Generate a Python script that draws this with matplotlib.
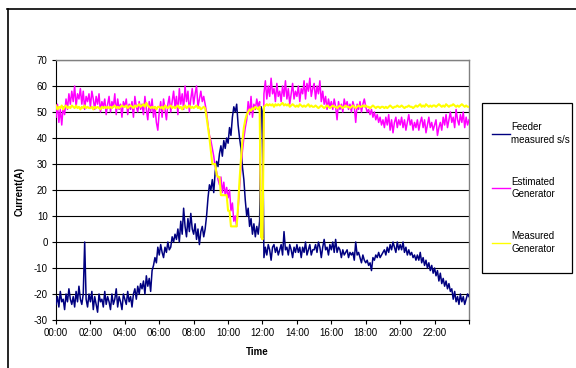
import numpy as np
import matplotlib
matplotlib.use("Agg")
import matplotlib.pyplot as plt
from matplotlib.lines import Line2D
from matplotlib.patches import Rectangle

plt.rcParams["font.family"] = ["Liberation Sans", "DejaVu Sans"]
plt.rcParams["axes.unicode_minus"] = False

# ----------------------------
# Data: one reading every 5 minutes, 00:00 -> 24:00 (one row per hour)
# ----------------------------
step_min = 5

feeder = [
    -24, -21, -25, -19, -23, -22, -26, -20, -23, -18, -22, -24,
    -21, -25, -19, -23, -17, -22, -24, -20, 0, -22, -25, -20,
    -23, -19, -26, -21, -24, -27, -20, -23, -22, -25, -19, -24,
    -21, -23, -26, -20, -24, -22, -18, -25, -21, -23, -26, -20,
    -22, -24, -19, -23, -21, -25, -20, -18, -22, -17, -20, -16,
    -18, -15, -20, -13, -17, -14, -19, -11, -9, -6, -8, -2,
    -5, -1, -4, -6, -2, -4, 0, -3, -2, 2, 0, 3,
    1, 5, 0, 8, 3, 13, 6, 2, 9, 4, 11, 5,
    3, 7, 1, 5, -1, 4, 6, 2, 5, 10, 17, 22,
    20, 24, 19, 27, 31, 29, 34, 37, 33, 39, 36, 40,
    38, 44, 41, 48, 52, 50, 53, 45, 40, 36, 29, 24,
    16, 10, 13, 6, 9, 3, 7, 2, 6, 3, 8, 52,
    50, -6, -2, -5, -1, -3, -7, -2, -1, -4, -2, -5,
    -3, -1, -5, 4, -3, -2, -5, -1, -3, -6, -2, -4,
    -1, -4, -2, -6, -2, -4, 0, -5, -3, -1, -5, -3,
    -3, -1, -4, 0, -2, -6, -2, 1, -3, -2, -5, -1,
    -3, 0, -4, 1, -4, -2, -3, -6, -3, -5, -4, -3,
    -6, -4, -5, -4, -7, 0, -5, -4, -6, -8, -5, -7,
    -8, -7, -9, -8, -11, -6, -7, -5, -6, -4, -6, -5,
    -4, -3, -5, -2, -4, -1, -3, 0, -2, -4, 0, -3,
    -1, -3, 0, -4, -2, -5, -3, -5, -4, -6, -5, -7,
    -5, -7, -4, -8, -6, -9, -7, -10, -8, -11, -9, -12,
    -10, -13, -11, -15, -12, -16, -14, -17, -15, -18, -16, -19,
    -18, -22, -19, -23, -21, -24, -20, -23, -21, -24, -22, -20,
    -21,
]

estimated = [
    48, 53, 46, 51, 45, 52, 49, 55, 51, 57, 53, 58,
    54, 60, 52, 57, 55, 59, 53, 58, 51, 56, 54, 57,
    52, 58, 55, 51, 56, 53, 57, 50, 54, 52, 55, 49,
    53, 56, 50, 54, 52, 57, 49, 55, 51, 53, 48, 54,
    52, 55, 49, 53, 51, 54, 48, 56, 52, 50, 54, 51,
    53, 49, 56, 51, 47, 54, 50, 55, 48, 52, 46, 43,
    50, 54, 48, 55, 51, 47, 53, 56, 50, 54, 58, 52,
    56, 49, 59, 53, 57, 51, 60, 54, 58, 50, 55, 59,
    53, 57, 60, 52, 55, 58, 54, 56, 53, 50, 45, 41,
    39, 36, 33, 29, 27, 24, 22, 25, 19, 23, 18, 21,
    17, 20, 12, 15, 8, 10, 6, 13, 21, 29, 35, 40,
    44, 47, 54, 49, 56, 48, 53, 51, 55, 52, 54, 2,
    1, 57, 62, 55, 60, 56, 63, 57, 59, 54, 61, 56,
    58, 54, 60, 56, 62, 55, 59, 53, 57, 61, 55, 58,
    56, 60, 54, 59, 57, 62, 55, 61, 58, 63, 56, 59,
    61, 55, 60, 57, 62, 54, 58, 53, 56, 51, 55, 52,
    54, 51, 55, 52, 47, 54, 51, 53, 50, 55, 52, 54,
    51, 53, 50, 54, 52, 46, 53, 51, 54, 50, 53, 55,
    52, 50, 51, 49, 51, 48, 50, 47, 49, 46, 48, 45,
    47, 44, 48, 45, 49, 43, 47, 42, 46, 48, 44, 47,
    45, 48, 44, 47, 43, 46, 49, 45, 47, 43, 46, 44,
    47, 43, 46, 48, 44, 47, 42, 45, 48, 44, 46, 43,
    45, 47, 41, 44, 46, 43, 48, 45, 49, 44, 47, 50,
    46, 48, 44, 51, 47, 45, 49, 46, 50, 44, 48, 45,
    47,
]

measured = [
    52.5, 51, 52, 51.5, 52.5, 51, 52, 52.5, 51.5, 52, 51.5, 52.5,
    52, 51.5, 52.5, 51.5, 52, 51, 52, 51.5, 52.5, 51.5, 52, 51.5,
    51.5, 52, 51, 52, 51.5, 52, 51.5, 51, 52, 51.5, 52, 51.5,
    52, 51.5, 52, 51.5, 52, 52.5, 51.5, 52, 51.5, 52, 52.5, 52,
    52, 52.5, 51.5, 52, 52.5, 52, 51.5, 52.5, 52, 52.5, 53, 52,
    52.5, 53, 52, 53.5, 52.5, 52, 51.5, 52, 51.5, 52, 51, 52,
    52, 51.5, 52, 51, 52.5, 52, 51.5, 52, 52.5, 51.5, 52, 51.5,
    52, 52.5, 51.5, 52, 51, 52, 52.5, 51.5, 52, 52.5, 51.5, 52,
    51.5, 52, 52.5, 51.5, 52, 51, 51.5, 52, 51.5, 48, 44, 40,
    35, 30, 30, 30, 26, 25, 25, 18, 18, 18, 18, 18,
    12, 12, 6, 6, 6, 6, 6, 14, 24, 32, 39, 44,
    47, 49, 50, 51, 50.5, 51.5, 51, 52, 51.5, 51, 52, 2,
    1, 52, 52.5, 53, 52.5, 53, 52.5, 53, 52, 53, 52.5, 53,
    52.5, 53, 53.5, 52.5, 53, 52.5, 53, 52, 52.5, 53, 52.5, 52,
    52.5, 52, 53, 52.5, 52, 52.5, 52, 52.5, 53, 52, 52.5, 52,
    52, 52.5, 52, 51.5, 52, 52.5, 52, 51.5, 52, 52.5, 52, 51.5,
    52, 52.5, 52, 52, 51.5, 52, 52.5, 52, 51.5, 52, 52.5, 52,
    52, 51.5, 52, 52.5, 52, 51.5, 52, 52.5, 52, 52, 52.5, 52,
    52.5, 52, 52, 51.5, 52, 52.5, 52, 51.5, 52, 52, 51.5, 52,
    52, 51.5, 52, 51.5, 52, 52.5, 52, 51.5, 52, 52, 52.5, 52,
    52, 52.5, 52, 51.5, 52, 52, 52.5, 52, 52, 51.5, 52, 52.5,
    52, 52.5, 53, 52, 52.5, 52, 53, 52.5, 52, 52.5, 52, 52.5,
    52.5, 52, 52.5, 53, 52.5, 52, 52.5, 52, 53, 52.5, 52, 52.5,
    52.5, 53, 52.5, 52, 52.5, 52, 52.5, 53, 52.5, 52, 52.5, 52,
    52,
]

series_labels = ["Feeder\nmeasured s/s", "Estimated\nGenerator", "Measured\nGenerator"]
series_colors = ["#000080", "#FF00FF", "#FFFF00"]
tick_hours = list(range(0, 25, 2))
tick_labels = [f"{h:02d}:00" for h in range(0, 24, 2)] + [""]

hours = np.arange(len(feeder)) * step_min / 60.0

# ----------------------------
# Plot
# ----------------------------
W, H = 576, 368
fig = plt.figure(figsize=(W / 100, H / 100), dpi=100)
ax = fig.add_axes([56 / W, 1 - 320 / H, (469 - 56) / W, (320 - 60) / H])

ax.plot(hours, feeder, color=series_colors[0], lw=1.1, zorder=3)
ax.plot(hours, estimated, color=series_colors[1], lw=1.1, zorder=4)
ax.plot(hours, measured, color=series_colors[2], lw=1.5, zorder=5)

ax.set_xlim(0, 24)
ax.set_ylim(-30, 70)
ax.set_yticks(range(-30, 71, 10))
ax.set_xticks(tick_hours)
ax.set_xticklabels(tick_labels)
ax.tick_params(labelsize=7, length=3, width=0.8, pad=3, colors="black")
ax.yaxis.grid(True, color="black", lw=0.8)
ax.set_axisbelow(True)

for side in ("top", "right"):
    ax.spines[side].set_color("#808080")
    ax.spines[side].set_linewidth(1.0)
for side in ("left", "bottom"):
    ax.spines[side].set_color("black")
    ax.spines[side].set_linewidth(0.8)

ax.set_ylabel("Current(A)", fontsize=7, fontweight="bold")
ax.set_xlabel("Time", fontsize=7, fontweight="bold")
ax.yaxis.set_label_coords(-0.087, 0.496)
ax.xaxis.set_label_coords(0.487, -0.123)
ax.xaxis.label.set_va("center")
ax.yaxis.label.set_va("center")

# chart area border (left and top edges)
fig.add_artist(Line2D([7.5 / W, 7.5 / W], [0, 1 - 9 / H], color="black", lw=1.2))
fig.add_artist(Line2D([7 / W, 1], [1 - 9 / H, 1 - 9 / H], color="black", lw=1.2))

# legend box
fig.add_artist(Rectangle((482 / W, 1 - 273 / H), 90 / W, 170 / H,
                         fill=False, edgecolor="black", lw=0.9))
for i, (label, color) in enumerate(zip(series_labels, series_colors)):
    yc = 1 - (133.5 + i * 54.5) / H
    fig.add_artist(Line2D([492 / W, 510 / W], [yc, yc], color=color, lw=1.0))
    fig.text(511 / W, yc, label, fontsize=7, va="center", ha="left", linespacing=1.35)

fig.savefig("out.png", dpi=100)
